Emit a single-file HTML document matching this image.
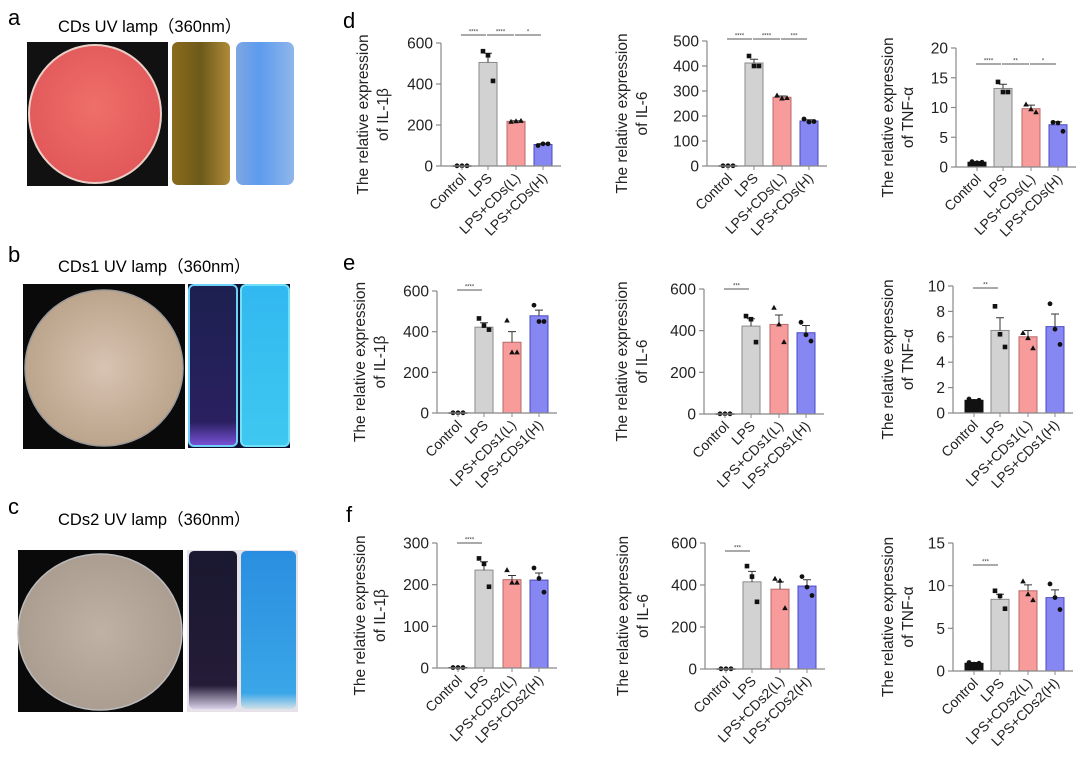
<!DOCTYPE html>
<html><head><meta charset="utf-8">
<style>
html,body{margin:0;padding:0;background:#fff;}
svg{display:block;font-family:"Liberation Sans","Noto Sans CJK SC",sans-serif;}
</style></head>
<body>
<svg id="fig" width="1080" height="757" viewBox="0 0 1080 757" xmlns="http://www.w3.org/2000/svg">
<defs>
<radialGradient id="gPink" cx="50%" cy="45%" r="55%"><stop offset="0" stop-color="#ee6f6a"/><stop offset="1" stop-color="#e2585a"/></radialGradient>
<linearGradient id="gGold" x1="0" x2="1"><stop offset="0" stop-color="#8a6a1c"/><stop offset="0.5" stop-color="#6d5a1a"/><stop offset="1" stop-color="#b08a3a"/></linearGradient>
<linearGradient id="gBlue" x1="0" x2="1"><stop offset="0" stop-color="#7fa7e0"/><stop offset="0.4" stop-color="#5c9bef"/><stop offset="1" stop-color="#8fb6ea"/></linearGradient>
<radialGradient id="gBeige" cx="50%" cy="50%" r="55%"><stop offset="0" stop-color="#d8c2b2"/><stop offset="1" stop-color="#b9a288"/></radialGradient>
<radialGradient id="gGrey" cx="50%" cy="50%" r="55%"><stop offset="0" stop-color="#bfb2a5"/><stop offset="1" stop-color="#a99c8f"/></radialGradient>
<linearGradient id="gNavy" x1="0" x2="0" y1="0" y2="1"><stop offset="0" stop-color="#1c2050"/><stop offset="0.85" stop-color="#2a2060"/><stop offset="1" stop-color="#7a52d8"/></linearGradient>
<linearGradient id="gCyan" x1="0" x2="0" y1="0" y2="1"><stop offset="0" stop-color="#32b8f0"/><stop offset="1" stop-color="#3ec8f0"/></linearGradient>
<linearGradient id="gNavy2" x1="0" x2="0" y1="0" y2="1"><stop offset="0" stop-color="#1a1830"/><stop offset="0.85" stop-color="#251c38"/><stop offset="1" stop-color="#d8d0e8"/></linearGradient>
<linearGradient id="gCyan2" x1="0" x2="0" y1="0" y2="1"><stop offset="0" stop-color="#2a8ee0"/><stop offset="0.9" stop-color="#3aa6e8"/><stop offset="1" stop-color="#cfe0e8"/></linearGradient>
</defs>

<g>
<text x="8" y="25" font-size="22">a</text>
<text x="58" y="32" font-size="16.5">CDs UV lamp（360nm）</text>
<rect x="27" y="42" width="141" height="144" fill="#111"/>
<ellipse cx="95" cy="114" rx="66" ry="69" fill="url(#gPink)" stroke="#e8d0c8" stroke-width="2"/>
<rect x="172" y="42" width="58" height="143" rx="6" fill="url(#gGold)"/>
<rect x="236" y="42" width="58" height="143" rx="7" fill="url(#gBlue)"/>
</g>

<g>
<text x="8" y="262" font-size="22">b</text>
<text x="58" y="272" font-size="16.5">CDs1 UV lamp（360nm）</text>
<rect x="23" y="284" width="162" height="165" fill="#0a0a0a"/>
<ellipse cx="104" cy="368" rx="79" ry="78" fill="url(#gBeige)" stroke="#999" stroke-width="1.5"/>
<rect x="188" y="284" width="102" height="164" fill="#0d1030"/>
<rect x="189" y="285" width="48" height="161" rx="5" fill="url(#gNavy)" stroke="#6fd0f8" stroke-width="2"/>
<rect x="241" y="285" width="48" height="161" rx="5" fill="url(#gCyan)" stroke="#6fe0f8" stroke-width="2"/>
</g>

<g>
<text x="8" y="514" font-size="22">c</text>
<text x="58" y="525" font-size="16.5">CDs2 UV lamp（360nm）</text>
<rect x="18" y="550" width="165" height="162" fill="#0a0a0a"/>
<ellipse cx="100" cy="632" rx="82" ry="78" fill="url(#gGrey)" stroke="#bbb" stroke-width="1.5"/>
<rect x="187" y="550" width="111" height="162" fill="#e6e2ea"/>
<rect x="189" y="551" width="48" height="158" rx="5" fill="url(#gNavy2)"/>
<rect x="241" y="551" width="55" height="158" rx="5" fill="url(#gCyan2)"/>
</g>

<text x="343" y="28" font-size="22">d</text>
<text x="343" y="270" font-size="22">e</text>
<text x="346" y="522" font-size="22">f</text>
<g id="charts"></g>
</svg>

<script>
const categoriesCDs = ["Control","LPS","LPS+CDs(L)","LPS+CDs(H)"];
const categoriesCDs1 = ["Control","LPS","LPS+CDs1(L)","LPS+CDs1(H)"];
const categoriesCDs2 = ["Control","LPS","LPS+CDs2(L)","LPS+CDs2(H)"];

const d1Means = [1, 505, 218, 105];
const d1Err = [0, 45, 3, 4];
const d1Points = [[1,1,1],[560,540,415],[216,218,220],[100,108,108]];
const d1Ticks = [0,200,400,600];
const d1Sig = [["****",0,1],["****",1,2],["*",2,3]];

const d2Means = [1, 412, 275, 180];
const d2Err = [0, 15, 5, 5];
const d2Points = [[1,1,1],[440,400,400],[282,270,272],[188,176,178]];
const d2Ticks = [0,100,200,300,400,500];
const d2Sig = [["****",0,1],["****",1,2],["***",2,3]];

const d3Means = [0.8, 13.2, 9.8, 7.1];
const d3Err = [0.1, 0.7, 0.6, 0.5];
const d3Points = [[0.9,0.7,0.8],[14.3,12.6,12.6],[10.5,9.7,9.2],[7.5,7.4,6.0]];
const d3Ticks = [0,5,10,15,20];
const d3Sig = [["****",0,1],["**",1,2],["*",2,3]];

const e1Means = [1, 422, 348, 478];
const e1Err = [0, 22, 52, 28];
const e1Points = [[1,1,1],[465,430,410],[455,298,298],[530,450,450]];
const e1Ticks = [0,200,400,600];
const e1Sig = [["****",0,1]];

const e2Means = [1, 422, 430, 390];
const e2Err = [0, 35, 45, 35];
const e2Points = [[1,1,1],[470,455,345],[510,430,345],[440,380,350]];
const e2Ticks = [0,200,400,600];
const e2Sig = [["***",0,1]];

const e3Means = [1.0, 6.5, 6.0, 6.8];
const e3Err = [0.05, 1.0, 0.5, 1.0];
const e3Points = [[1.1,0.9,1.0],[8.4,6.2,5.2],[6.3,5.9,5.1],[8.6,6.6,5.4]];
const e3Ticks = [0,2,4,6,8,10];
const e3Sig = [["**",0,1]];

const f1Means = [1, 235, 212, 211];
const f1Err = [0, 20, 10, 17];
const f1Points = [[1,1,1],[263,250,195],[235,205,205],[240,215,182]];
const f1Ticks = [0,100,200,300];
const f1Sig = [["****",0,1]];

const f2Means = [1, 415, 380, 395];
const f2Err = [0, 50, 35, 30];
const f2Points = [[1,1,1],[490,440,320],[430,420,290],[440,390,350]];
const f2Ticks = [0,200,400,600];
const f2Sig = [["***",0,1]];

const f3Means = [0.9, 8.4, 9.4, 8.6];
const f3Err = [0.1, 0.6, 0.7, 0.9];
const f3Points = [[1.0,0.8,0.9],[9.4,8.8,7.3],[10.5,9.0,8.3],[10.2,8.6,7.2]];
const f3Ticks = [0,5,10,15];
const f3Sig = [["***",0,1]];

const NS = "http://www.w3.org/2000/svg";
const root = document.getElementById("charts");
function mk(tag, attrs, parent){
  const el = document.createElementNS(NS, tag);
  for (const k in attrs) el.setAttribute(k, attrs[k]);
  parent.appendChild(el);
  return el;
}
const fills = ["#111","#d2d2d2","#f79b9b","#8787f3"];
const strokes = ["#111","#8a8a8a","#b86a6a","#4a4ac0"];
const offsets = [21,47,75,102];

function drawChart(cfg){
  const g = mk("g", {}, root);
  
  
  const ax = cfg.ax, top = cfg.top, bot = cfg.bot;
  const ymax = cfg.ticks[cfg.ticks.length-1];
  const y = v => bot - (v/ymax)*(bot-top);
  const xc = i => ax + offsets[i];
  const mid = (top+bot)/2 + 10;
  [cfg.yl1, cfg.yl2].forEach((s, k) => {
    const t = mk("text", {x: ax + cfg.ylOff + k*20, y: mid, "font-size": 15.5, "text-anchor":"middle",
      transform:`rotate(-90 ${ax + cfg.ylOff + k*20} ${mid})`, fill:"#222"}, g);
    
    
    t.textContent = s;
  });
  cfg.means.forEach((m, i) => {
    const h = bot - y(m);
    const r = mk("rect", {x: xc(i)-9, y: y(m), width: 18, height: Math.max(h,0.5), fill: fills[i], stroke: strokes[i], "stroke-width": 1}, g);
    
    
    if (cfg.err[i] > 0) {
      const e = mk("path", {d:`M${xc(i)} ${y(m)} V${y(m+cfg.err[i])} M${xc(i)-4} ${y(m+cfg.err[i])} H${xc(i)+4}`, stroke: i==0?"#111":"#333", "stroke-width":1, fill:"none"}, g);
      
      
    }
    cfg.points[i].forEach((p, j) => {
      const px = xc(i) + (j-1)*5, py = y(p);
      let el;
      if (i == 1) el = mk("rect", {x:px-2.3, y:py-2.3, width:4.6, height:4.6, fill:"#111"}, g);
      else if (i == 2) el = mk("path", {d:`M${px} ${py-3} L${px+2.8} ${py+2} L${px-2.8} ${py+2}Z`, fill:"#111"}, g);
      else el = mk("circle", {cx:px, cy:py, r:2.4, fill:"#111"}, g);
      
      
    });
  });
  const yaxis = mk("path", {d:`M${ax} ${top} V${bot}`, stroke:"#888", "stroke-width":1.2, fill:"none"}, g);
  
  
  const xaxis = mk("path", {d:`M${ax} ${bot} H${ax+120}`, stroke:"#888", "stroke-width":1.2, fill:"none"}, g);
  
  
  cfg.ticks.forEach(t => {
    mk("path", {d:`M${ax-5} ${y(t)} H${ax}`, stroke:"#888", "stroke-width":1.2}, g);
    const tl = mk("text", {x: ax-8, y: y(t)+5.5, "font-size": 15.5, "text-anchor":"end", fill:"#222"}, g);
    
    
    tl.textContent = t;
  });
  cfg.cats.forEach((c, i) => {
    mk("path", {d:`M${xc(i)} ${bot} V${bot+4}`, stroke:"#888", "stroke-width":1}, g);
    const lx = xc(i)+5, ly = bot+13;
    const xl = mk("text", {x: lx, y: ly, "font-size": 14, "text-anchor":"end", fill:"#222", transform:`rotate(-45 ${lx} ${ly})`}, g);
    
    
    xl.textContent = c;
  });
  cfg.sig.forEach(s => {
    const sy = top + cfg.sigOff;
    const l = mk("path", {d:`M${xc(s[1])-1} ${sy} H${xc(s[2])-2}`, stroke:"#555", "stroke-width":0.9}, g);
    
    
    const st = mk("text", {x:(xc(s[1])+xc(s[2]))/2 - 1.5, y: sy-1.5, "font-size":6, "text-anchor":"middle", fill:"#333"}, g);
    
    
    st.textContent = s[0];
  });
}

const L1 = "The relative expression";
drawChart({name:"chart-d-il1b", ax:441, top:43, bot:166, ylOff:-73, yl1:L1, yl2:"of IL-1β", cats:categoriesCDs, means:d1Means, err:d1Err, points:d1Points, ticks:d1Ticks, sig:d1Sig, sigOff:-8});
drawChart({name:"chart-d-il6", ax:707, top:41, bot:166, ylOff:-80, yl1:L1, yl2:"of IL-6", cats:categoriesCDs, means:d2Means, err:d2Err, points:d2Points, ticks:d2Ticks, sig:d2Sig, sigOff:-2});
drawChart({name:"chart-d-tnfa", ax:956, top:48, bot:167, ylOff:-63, yl1:L1, yl2:"of TNF-α", cats:categoriesCDs, means:d3Means, err:d3Err, points:d3Points, ticks:d3Ticks, sig:d3Sig, sigOff:16});
drawChart({name:"chart-e-il1b", ax:437, top:291, bot:413, ylOff:-72, yl1:L1, yl2:"of IL-1β", cats:categoriesCDs1, means:e1Means, err:e1Err, points:e1Points, ticks:e1Ticks, sig:e1Sig, sigOff:-1});
drawChart({name:"chart-e-il6", ax:704, top:289, bot:414, ylOff:-77, yl1:L1, yl2:"of IL-6", cats:categoriesCDs1, means:e2Means, err:e2Err, points:e2Points, ticks:e2Ticks, sig:e2Sig, sigOff:0});
drawChart({name:"chart-e-tnfa", ax:953, top:286, bot:413, ylOff:-60, yl1:L1, yl2:"of TNF-α", cats:categoriesCDs1, means:e3Means, err:e3Err, points:e3Points, ticks:e3Ticks, sig:e3Sig, sigOff:2});
drawChart({name:"chart-f-il1b", ax:437, top:543, bot:668, ylOff:-72, yl1:L1, yl2:"of IL-1β", cats:categoriesCDs2, means:f1Means, err:f1Err, points:f1Points, ticks:f1Ticks, sig:f1Sig, sigOff:0});
drawChart({name:"chart-f-il6", ax:705, top:543, bot:669, ylOff:-77, yl1:L1, yl2:"of IL-6", cats:categoriesCDs2, means:f2Means, err:f2Err, points:f2Points, ticks:f2Ticks, sig:f2Sig, sigOff:8});
drawChart({name:"chart-f-tnfa", ax:953, top:543, bot:671, ylOff:-60, yl1:L1, yl2:"of TNF-α", cats:categoriesCDs2, means:f3Means, err:f3Err, points:f3Points, ticks:f3Ticks, sig:f3Sig, sigOff:22});
</script>
</body></html>
